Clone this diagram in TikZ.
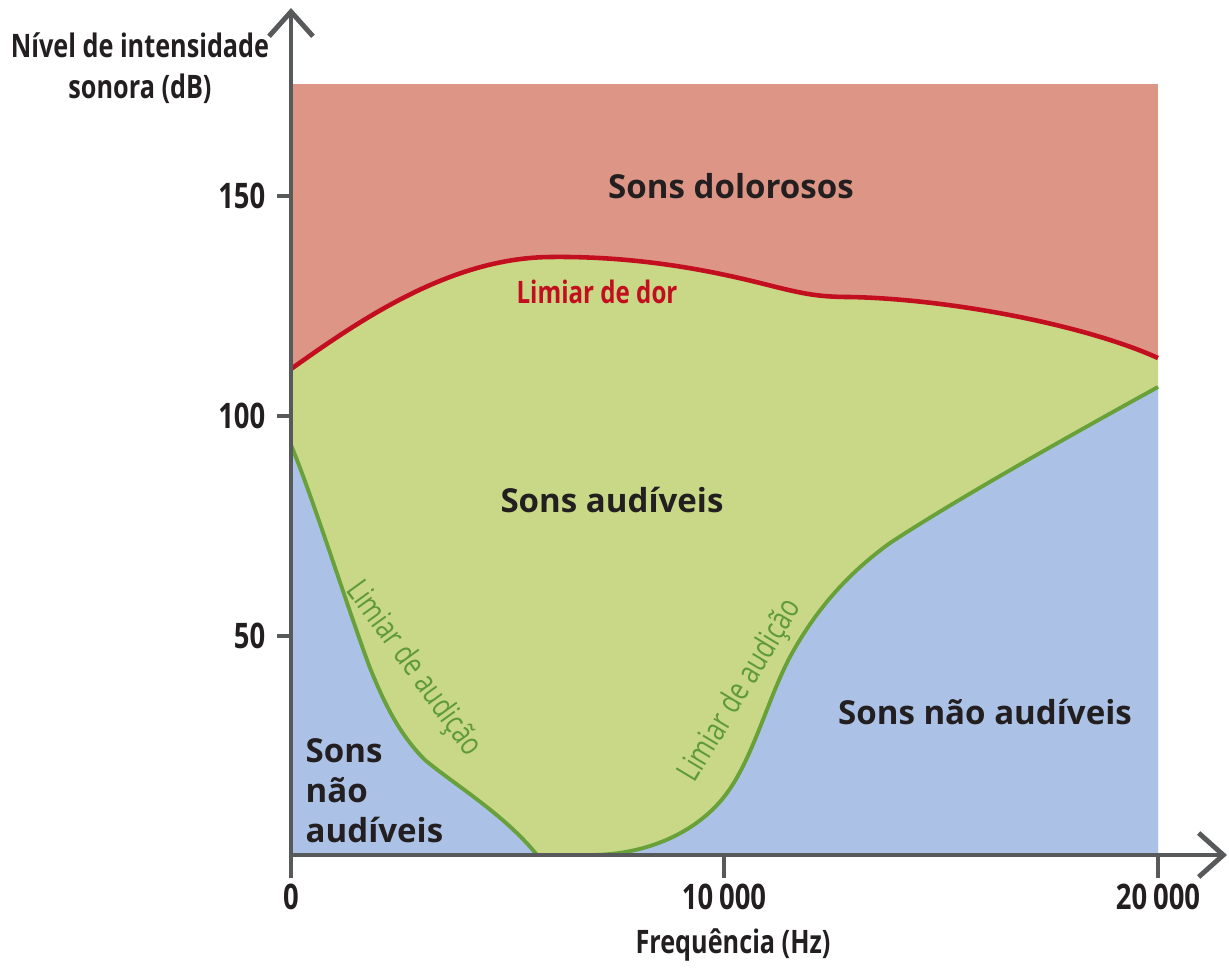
\documentclass[tikz,border=0pt]{standalone}
\usepackage{fontspec}
\setmainfont{Open Sans}
\newfontfamily\condfont[FakeStretch=0.78]{Open Sans}
\usetikzlibrary{arrows.meta}
\definecolor{painfill}{HTML}{DD9686}
\definecolor{audfill}{HTML}{C9D886}
\definecolor{mutefill}{HTML}{ABC2E6}
\definecolor{painline}{HTML}{C20E1E}
\definecolor{hearline}{HTML}{68A03A}
\definecolor{hearText}{HTML}{5E9A38}
\definecolor{axisgray}{HTML}{58595B}
\definecolor{ink}{HTML}{231F20}
% threshold curves, in pixel-like units
\def\painpath{(291,369) .. controls (360,320) and (450,258) .. (550,257)
  .. controls (630,256) and (700,268) .. (760,283)
  .. controls (800,293) and (815,297) .. (850,297)
  .. controls (950,299) and (1085,325) .. (1158,358)}
\def\hearleft{(291,445) .. controls (312,495) and (350,615) .. (370,668)
  .. controls (385,705) and (400,735) .. (425,760)
  .. controls (455,785) and (505,815) .. (537,855)}
\def\hearright{(590,855) .. controls (650,855) and (700,830) .. (727,793)
  .. controls (755,755) and (770,690) .. (795,648)
  .. controls (820,605) and (850,572) .. (890,543)
  .. controls (960,497) and (1080,430) .. (1158,387)}
\begin{document}
\begin{tikzpicture}[x=0.01cm,y=-0.01cm,
  axis/.style={draw=axisgray,line width=1.4pt},
  axisarrow/.style={-{Straight Barb[length=7pt,width=12.5pt,line width=1.4pt]}},
  tick/.style={draw=axisgray,line width=1.2pt},
  ticklabel/.style={font=\condfont\bfseries\fontsize{10}{12}\selectfont,text=ink,inner sep=0pt},
  axislabel/.style={font=\condfont\bfseries\fontsize{9.2}{11.5}\selectfont,text=ink,inner sep=0pt,align=center},
  region/.style={font=\bfseries\fontsize{9.4}{10.5}\selectfont,text=ink,inner sep=0pt},
  curvelabel/.style={font=\condfont\fontsize{9.1}{10}\selectfont,text=hearText,inner sep=0pt}]
\useasboundingbox (0,0) rectangle (1229,972);
% painful region: the whole plotting area
\fill[painfill] (291,84) rectangle (1158,855);
% audible region below the pain threshold
\fill[audfill] (291,855) -- \painpath -- (1158,855) -- cycle;
% inaudible region below the hearing threshold
\fill[mutefill] (291,855) -- \hearleft -- \hearright -- (1158,855) -- cycle;
% hearing threshold
\draw[hearline,line width=1.1pt] \hearleft -- \hearright;
% pain threshold
\draw[painline,line width=1.3pt] \painpath;
% axes
\coordinate (origin) at (291,855);
\coordinate (ybottom) at (291,878);
\coordinate (ytop) at (291,8);
\coordinate (xend) at (1227,855);
\draw[axis,axisarrow] (ybottom) -- (ytop);
\draw[axis,axisarrow] (origin) -- (xend);
% ticks
\foreach \yy/\lab/\nm in {196/150/ya,416/100/yb,636/50/yc}{
  \draw[tick] (277,\yy) -- (291,\yy);
  \node[ticklabel,anchor=east] (\nm) at (266,\yy) {\lab};
}
\foreach \xx/\lab/\nm in {291/0/xa,724/10\,000/xb,1158/20\,000/xc}{
  \draw[tick] (\xx,855) -- (\xx,878);
  \node[ticklabel] (\nm) at (\xx,897) {\lab};
}
% axis titles
\node[axislabel] (ytitle) at (140,68) {Nível de intensidade\\sonora (dB)};
\node[axislabel] (xtitle) at (733,945) {Frequência (Hz)};
% region labels
\node[region] (pain) at (731,186) {Sons dolorosos};
\node[region] (aud) at (612,500) {Sons audíveis};
\node[region] (muteR) at (985,712) {Sons não audíveis};
\node[region,align=left,anchor=north west] (muteL) at (305,738) {Sons\\[0.8pt]não\\[0.8pt]audíveis};
% curve labels
\node[curvelabel,text=painline,font=\condfont\bfseries\fontsize{8.8}{10}\selectfont] (painlab) at (597,292) {Limiar de dor};
\node[curvelabel,rotate=-54] (hearL) at (413,669) {Limiar de audição};
\node[curvelabel,rotate=59] (hearR) at (741,691) {Limiar de audição};
\end{tikzpicture}
\end{document}
